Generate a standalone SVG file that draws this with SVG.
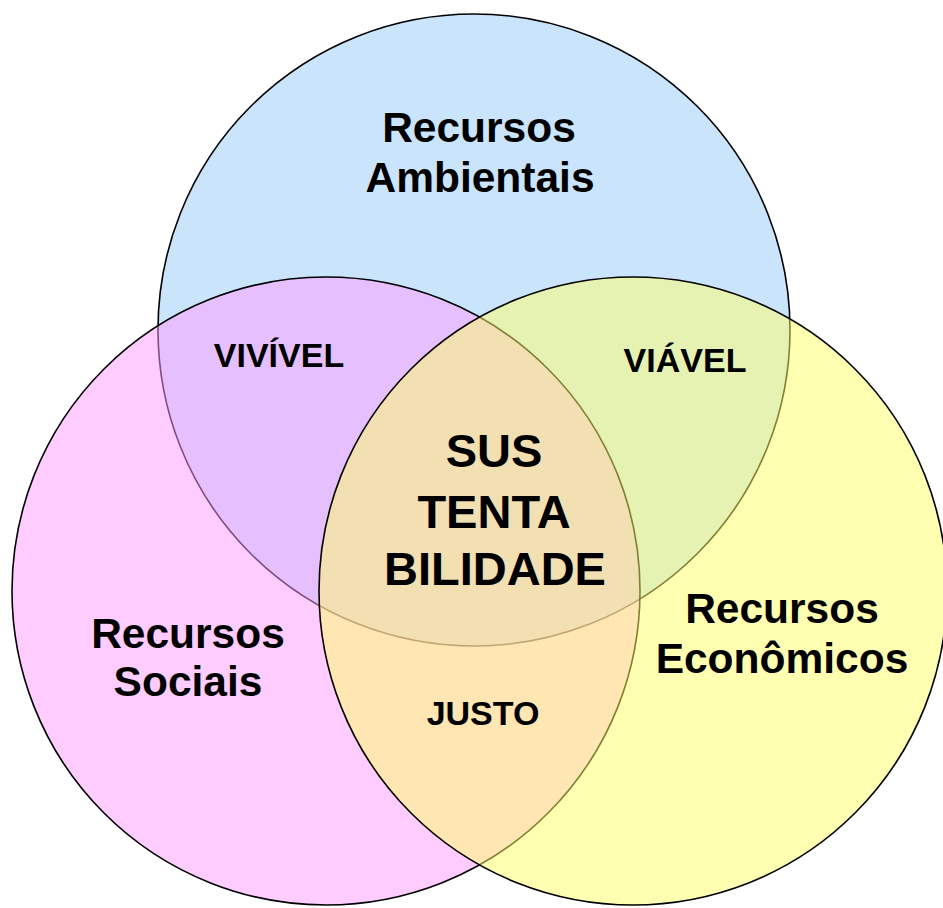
<svg xmlns="http://www.w3.org/2000/svg" width="943" height="908" viewBox="0 0 943 908">
<style>
.c{stroke:#000;stroke-width:1.6}
.t{font-family:"Liberation Sans",Arial,sans-serif;font-weight:bold;fill:#000;text-anchor:middle}
.big{font-size:42.5px}
.mid{font-size:47px}
.sm{font-size:34px}
</style>
<rect width="943" height="908" fill="#fff"/>
<g id="ambientais">
<circle class="c" cx="474" cy="330" r="316" fill="#CAE4FC"/>
<text class="t big" x="479" y="142">Recursos</text>
<text class="t big" x="480" y="192">Ambientais</text>
</g>
<g id="sociais">
<circle class="c" cx="326" cy="591" r="314" fill="#FF99FF" fill-opacity="0.5"/>
<text class="t big" x="188" y="648">Recursos</text>
<text class="t big" x="188" y="696">Sociais</text>
</g>
<g id="economicos">
<circle class="c" cx="633" cy="591" r="314" fill="#FFFF66" fill-opacity="0.5"/>
<text class="t big" x="782" y="623">Recursos</text>
<text class="t big" x="782" y="673">Econômicos</text>
</g>
<g id="vivivel">
<text class="t sm" x="279" y="367">VIVÍVEL</text>
</g>
<g id="viavel">
<text class="t sm" x="685" y="372">VIÁVEL</text>
</g>
<g id="justo">
<text class="t sm" x="483" y="725">JUSTO</text>
</g>
<g id="sustentabilidade">
<text class="t mid" x="494" y="467">SUS</text>
<text class="t mid" x="494" y="528">TENTA</text>
<text class="t mid" x="495" y="585">BILIDADE</text>
</g>
</svg>
